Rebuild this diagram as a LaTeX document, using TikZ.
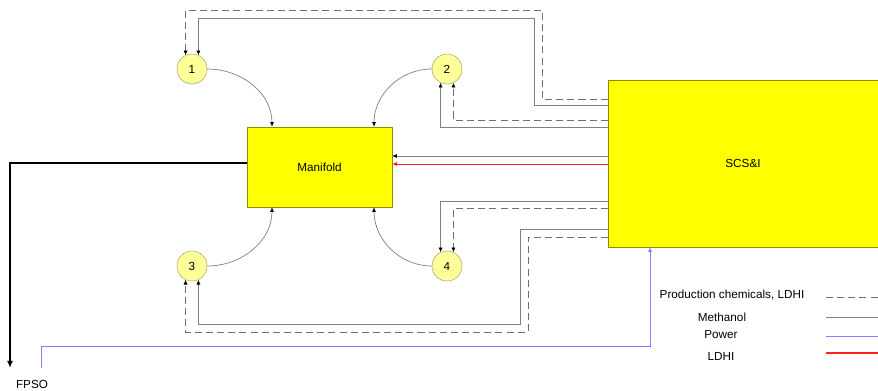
\documentclass[tikz,border=0pt]{standalone}
\usepackage{fontspec}
\setmainfont{Liberation Sans}
\usepackage{xcolor}
\usepackage{tikz}
\usetikzlibrary{arrows.meta, positioning}

\definecolor{boxyellow}{HTML}{FFFF00}
\definecolor{boxedge}{HTML}{8C8C00}
\definecolor{valveyellow}{HTML}{FFFF99}
\definecolor{valveedge}{HTML}{9A9A6A}
\definecolor{pipegray}{HTML}{808080}
\definecolor{chemgray}{HTML}{6E6E6E}
\definecolor{powerblue}{HTML}{8080FF}
\definecolor{ldhired}{HTML}{FF2020}

\begin{document}
\begin{tikzpicture}[
    x=0.03cm, y=-0.03cm,
    font=\fontsize{10}{12}\selectfont,
    unit/.style={draw=boxedge, fill=boxyellow, rectangle, align=center},
    valve/.style={draw=valveedge, fill=valveyellow, circle, inner sep=0pt,
                  minimum size=0.9cm},
    tip/.style={-{Latex[length=4pt, width=3.5pt, black]}},
    methanol/.style={tip, draw=pipegray, line width=0.6pt},
    chem/.style={tip, draw=chemgray, line width=0.6pt, dash pattern=on 6pt off 3.5pt},
    ldhi/.style={-{Latex[length=4pt, width=3.5pt]}, draw=ldhired, line width=0.7pt},
    power/.style={-{Latex[length=4pt, width=3.5pt]}, draw=powerblue, line width=0.6pt},
    export/.style={-{Latex[length=6pt, width=5pt]}, line width=1.5pt}
]
\useasboundingbox (0,0) rectangle (878,390);

% ====================== UNITS ======================
\node[unit, minimum width=4.35cm, minimum height=2.4cm] (manifold) at (319.5,167) {Manifold};
\node[unit, minimum width=8.1cm, minimum height=5.01cm] (scs) at (743,163.5) {SCS\&I};

% ====================== WELLS ======================
\node[valve] (w1) at (192,69)  {1};
\node[valve] (w2) at (447,69)  {2};
\node[valve] (w3) at (192,266) {3};
\node[valve] (w4) at (447,266) {4};

% ====================== WELLS TO MANIFOLD ======================
\draw[methanol] (w1.east) to[out=0, in=90]   (manifold.north -| 272,0);
\draw[methanol] (w2.west) to[out=180, in=90] (manifold.north -| 374,0);
\draw[methanol] (w3.east) to[out=0, in=-90]  (manifold.south -| 272,0);
\draw[methanol] (w4.west) to[out=180, in=-90] (manifold.south -| 374,0);

% ====================== SCS&I TO WELLS ======================
\draw[chem]     (scs.west |- 0,99)  -| (542,10) -| (w1.115);
\draw[methanol] (scs.west |- 0,105) -| (534,18) -| (w1.65);
\draw[chem]     (scs.west |- 0,120) -| (w2.295);
\draw[methanol] (scs.west |- 0,127) -| (w2.245);
\draw[methanol] (scs.west |- 0,201) -| (w4.115);
\draw[chem]     (scs.west |- 0,208) -| (w4.65);
\draw[methanol] (scs.west |- 0,229) -| (520,324) -| (w3.295);
\draw[chem]     (scs.west |- 0,237) -| (528,332) -| (w3.245);

% ====================== SCS&I TO MANIFOLD ======================
\draw[methanol] (scs.west |- 0,156) -- (manifold.east |- 0,156);
\draw[ldhi]     (scs.west |- 0,164) -- (manifold.east |- 0,164);

% ====================== EXPORT AND POWER ======================
\node (fpso) at (32,384) {FPSO};
\coordinate (fpsoin) at (10,368);
\coordinate (topside) at (41,368);
\draw[export] (manifold.west |- 0,163) -| (fpsoin);
\draw[power] (topside) |- (650,346) -- (scs.south -| 650,0);

% ====================== LEGEND ======================
\node (lgchem)  at (732,295) {Production chemicals, LDHI};
\node (lgmeth)  at (722,317) {Methanol};
\node (lgpower) at (721,335) {Power};
\node (lgldhi)  at (721,356) {LDHI};
\draw[draw=chemgray, line width=0.6pt, dash pattern=on 6pt off 3.5pt] (826,297) -- (878,297);
\draw[draw=pipegray, line width=0.6pt] (826,317) -- (878,317);
\draw[draw=powerblue, line width=0.6pt] (826,336) -- (878,336);
\fill[ldhired] (826,352.4) rectangle (878,353.8);

\end{tikzpicture}
\end{document}
